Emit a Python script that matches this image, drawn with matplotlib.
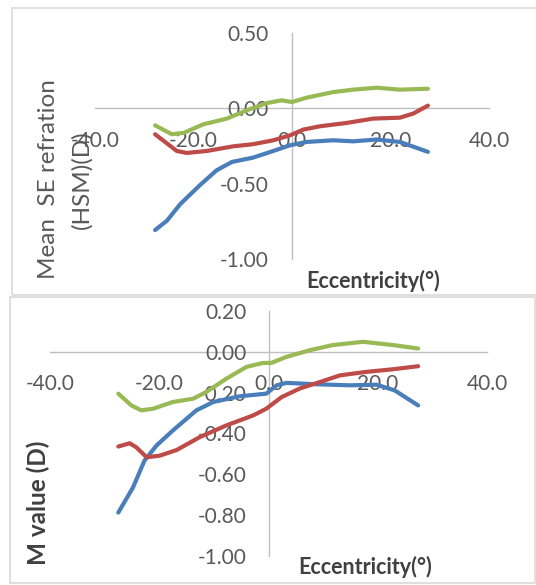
import numpy as np
import matplotlib
matplotlib.use("Agg")
import matplotlib.pyplot as plt
from matplotlib.patches import Rectangle

# values (eccentricity in degrees, dioptres)
top_blue_x = [-27.8, -25.4, -22.7, -18.7, -15.3, -12.2, -7.9, -3.8, -0.4, 3.0, 8.4, 12.4, 17.2, 21.9, 27.6]
top_blue_y = [-0.808, -0.746, -0.636, -0.510, -0.411, -0.356, -0.327, -0.283, -0.245, -0.223, -0.212, -0.219, -0.207, -0.223, -0.289]
top_red_x = [-27.8, -23.4, -21.4, -17.3, -11.9, -7.9, -3.8, -0.4, 2.3, 5.7, 11.1, 16.5, 21.9, 24.6, 27.6]
top_red_y = [-0.172, -0.283, -0.296, -0.283, -0.252, -0.238, -0.212, -0.179, -0.141, -0.119, -0.097, -0.068, -0.062, -0.035, 0.018]
top_green_x = [-27.8, -24.4, -22.0, -18.0, -13.2, -9.2, -5.1, -2.1, 0.0, 3.0, 8.4, 12.4, 17.2, 21.9, 27.6]
top_green_y = [-0.113, -0.172, -0.163, -0.106, -0.068, -0.013, 0.035, 0.053, 0.042, 0.071, 0.108, 0.124, 0.137, 0.124, 0.130]

bot_blue_x = [-27.5, -24.8, -22.7, -20.5, -17.5, -13.2, -10.1, -5.3, -0.4, 1.5, 3.3, 8.8, 14.9, 19.8, 23.1, 27.4]
bot_blue_y = [-0.789, -0.665, -0.533, -0.459, -0.385, -0.286, -0.245, -0.217, -0.204, -0.163, -0.151, -0.158, -0.163, -0.160, -0.188, -0.262]
bot_red_x = [-27.5, -25.4, -24.2, -22.3, -19.9, -16.8, -12.6, -7.7, -2.8, -0.4, 2.4, 5.7, 9.4, 13.1, 17.9, 22.8, 27.4]
bot_red_y = [-0.464, -0.448, -0.468, -0.517, -0.509, -0.481, -0.418, -0.360, -0.311, -0.278, -0.221, -0.179, -0.147, -0.114, -0.097, -0.084, -0.069]
bot_green_x = [-27.5, -25.1, -23.3, -21.1, -17.5, -13.8, -11.4, -7.7, -4.0, -1.0, 0.5, 3.3, 7.6, 11.8, 17.3, 22.8, 27.4]
bot_green_y = [-0.204, -0.262, -0.286, -0.278, -0.245, -0.229, -0.196, -0.130, -0.072, -0.053, -0.053, -0.023, 0.010, 0.035, 0.051, 0.035, 0.018]

x_ticks = [-40, -20, 0, 20, 40]
top_y_ticks = [0.5, 0.0, -0.5, -1.0]
bot_y_ticks = [0.2, 0.0, -0.2, -0.4, -0.6, -0.8, -1.0]

BLUE, RED, GREEN = "#4a7ebb", "#be4b48", "#98b954"
W, H = 536, 585
plt.rcParams['font.family'] = ['Lato', 'DejaVu Sans']

fig = plt.figure(figsize=(W / 100, H / 100), dpi=100)


def rect(l, t, r, b):
    # pixel box -> figure fraction [left, bottom, width, height]
    return [l / W, 1 - b / H, (r - l) / W, (b - t) / H]


# chart frames
for l, t, r, b in [(12, 8, 545, 295), (10, 297, 535, 583)]:
    x0, y0, w, h = rect(l, t, r, b)
    fig.add_artist(Rectangle((x0, y0), w, h, transform=fig.transFigure,
                             fill=False, edgecolor="#d9d9d9", linewidth=1.2))

fig.text(0.0, 1 - 3 / H, "210", family="Liberation Serif", fontsize=14,
         va="bottom", ha="left", color="black")


def style(ax, yticks, ylim, xpad, ypad):
    ax.set_xlim(-40, 40)
    ax.set_ylim(*ylim)
    ax.patch.set_alpha(0)
    for s in ["top", "right"]:
        ax.spines[s].set_visible(False)
    ax.spines["left"].set_position(("data", 0))
    ax.spines["bottom"].set_position(("data", 0))
    for s in ["left", "bottom"]:
        ax.spines[s].set_color("#bfbfbf")
        ax.spines[s].set_linewidth(1.0)
        ax.spines[s].set_zorder(0)
    ax.set_xticks(x_ticks)
    ax.set_xticklabels([f"{v:.1f}" for v in x_ticks])
    ax.set_yticks(yticks)
    ax.set_yticklabels([f"{v:.2f}" if abs(v) > 1e-9 else "0.00" for v in yticks])
    ax.tick_params(axis="x", length=0, pad=xpad, labelsize=15, colors="#595959")
    ax.tick_params(axis="y", length=0, pad=ypad, labelsize=15, colors="#595959")


lw = 3.0
# top panel
ax1 = fig.add_axes(rect(95, 33, 489, 259))
style(ax1, top_y_ticks, (-1.0, 0.5), 16, 17)
for xs, ys, c in [(top_blue_x, top_blue_y, BLUE), (top_red_x, top_red_y, RED),
                  (top_green_x, top_green_y, GREEN)]:
    ax1.plot(xs, ys, color=c, linewidth=lw, solid_capstyle="round", solid_joinstyle="round")
fig.text(49 / W, 1 - 179 / H, "Mean  SE refration", rotation=90, fontsize=17.5,
         color="#595959", ha="center", va="center")
fig.text(82 / W, 1 - 180 / H, "(HSM)(D)", rotation=90, fontsize=17.5,
         color="#595959", ha="center", va="center")
fig.text(373 / W, 1 - 281 / H, "Eccentricity(°)", fontsize=15.5, fontweight="bold",
         color="#404040", ha="center", va="center")

# bottom panel
ax2 = fig.add_axes(rect(50, 311.5, 487, 555.5))
style(ax2, bot_y_ticks, (-1.0, 0.2), 16, 16)
for xs, ys, c in [(bot_blue_x, bot_blue_y, BLUE), (bot_red_x, bot_red_y, RED),
                  (bot_green_x, bot_green_y, GREEN)]:
    ax2.plot(xs, ys, color=c, linewidth=lw, solid_capstyle="round", solid_joinstyle="round")
fig.text(38 / W, 1 - 503 / H, "M value (D)", rotation=90, fontsize=17.5, fontweight="bold",
         color="#404040", ha="center", va="center")
fig.text(365 / W, 1 - 567 / H, "Eccentricity(°)", fontsize=15.5, fontweight="bold",
         color="#404040", ha="center", va="center")

fig.savefig("out.png", dpi=100)
